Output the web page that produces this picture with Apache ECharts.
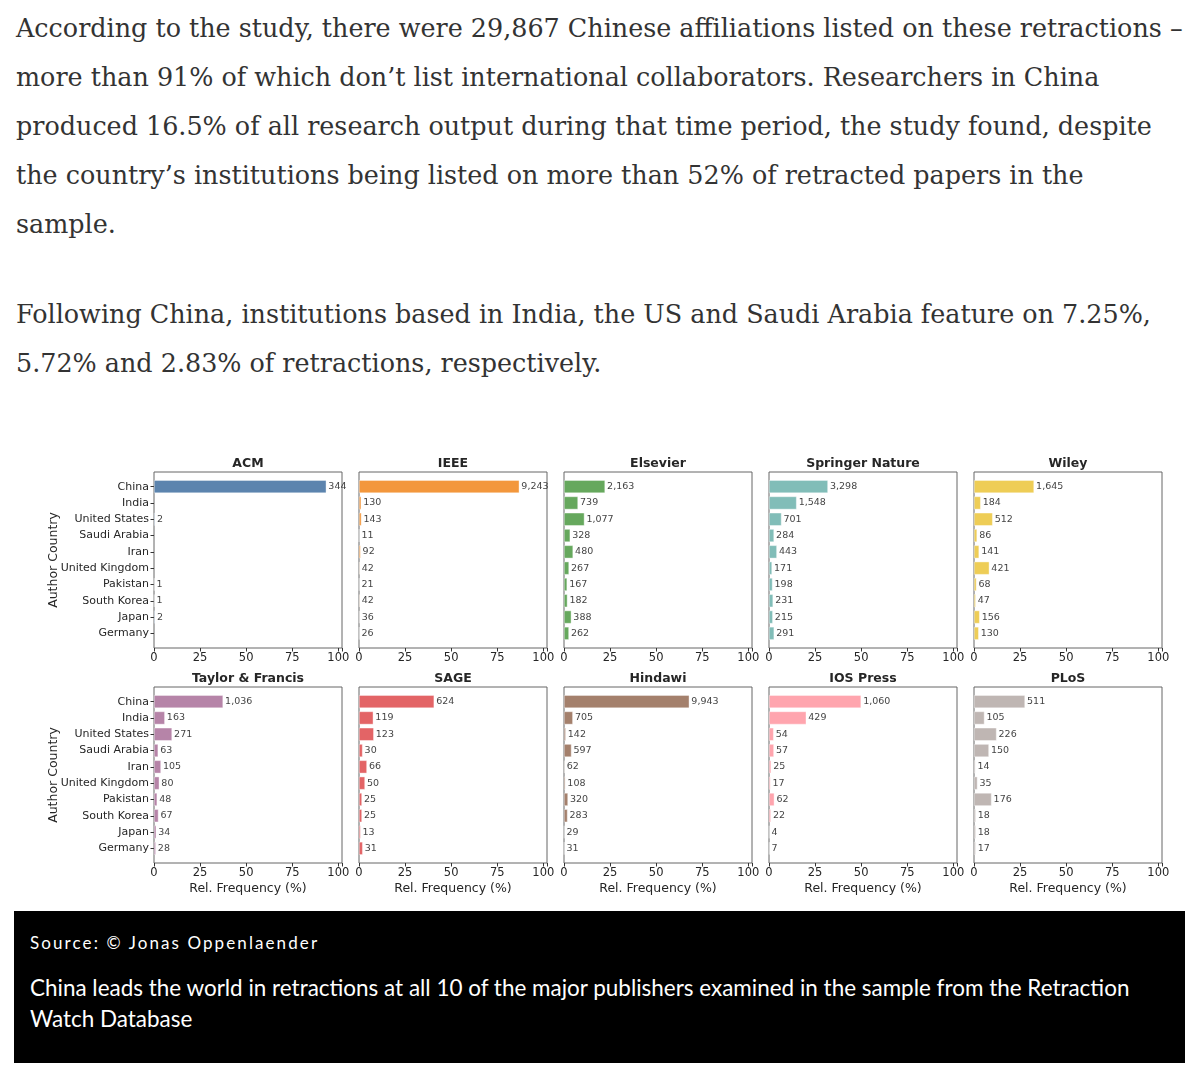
<!DOCTYPE html>
<html>
<head>
<meta charset="utf-8">
<script src="https://cdn.jsdelivr.net/npm/echarts@6/dist/echarts.min.js"></script>
<style>
  html, body { margin: 0; padding: 0; background: #fff; }
  body { width: 1200px; height: 1074px; position: relative; overflow: hidden; }
  .para { position: absolute; left: 16px; font-family: "DejaVu Serif", "Liberation Serif", serif;
          font-size: 26px; line-height: 49px; color: #333; white-space: nowrap; }
  .para span { display: inline-block; }
  #chart { position: absolute; left: 0; top: 440px; width: 1200px; height: 470px; }
  .caption { position: absolute; left: 14px; top: 911px; width: 1171px; height: 152px; background: #000;
             color: #fff; font-family: Lato, "Open Sans", sans-serif; }
  .caption .src { position: absolute; left: 16px; top: 21px; font-size: 17px; letter-spacing: 2.1px; white-space: nowrap; }
  .caption .txt { position: absolute; left: 16px; top: 61px; font-size: 20px; line-height: 31px; white-space: nowrap; }
  .caption .txt span { display: inline-block; }
</style>
</head>
<body>
<div class="para" id="p1" style="top:4px"><span id="fit1">According to the study, there were 29,867 Chinese affiliations listed on these retractions –</span><br>
more than 91% of which don’t list international collaborators. Researchers in China<br>
produced 16.5% of all research output during that time period, the study found, despite<br>
the country’s institutions being listed on more than 52% of retracted papers in the<br>
sample.
</div>
<div class="para" id="p2" style="top:290px">Following China, institutions based in India, the US and Saudi Arabia feature on 7.25%,<br>
5.72% and 2.83% of retractions, respectively.
</div>
<div id="chart"></div>
<div class="caption">
  <div class="src">Source: © Jonas Oppenlaender</div>
  <div class="txt" id="cap"><span id="fit2">China leads the world in retractions at all 10 of the major publishers examined in the sample from the Retraction</span><br>Watch Database</div>
</div>
<script>
// categories
const countries = ['China', 'India', 'United States', 'Saudi Arabia', 'Iran',
  'United Kingdom', 'Pakistan', 'South Korea', 'Japan', 'Germany'];
const xTicks = [0, 25, 50, 75, 100];

// retraction counts (bar labels) and relative frequency in % (bar lengths)
const acmCounts = [344, null, 2, null, null, null, 1, 1, 2, null];
const acmPct = [93.5, null, 0.54, null, null, null, 0.27, 0.27, 0.54, null];
const ieeeCounts = [9243, 130, 143, 11, 92, 42, 21, 42, 36, 26];
const ieeePct = [87.0, 1.22, 1.35, 0.10, 0.87, 0.40, 0.20, 0.40, 0.34, 0.24];
const elsevierCounts = [2163, 739, 1077, 328, 480, 267, 167, 182, 388, 262];
const elsevierPct = [22.3, 7.62, 11.1, 3.38, 4.95, 2.75, 1.72, 1.88, 4.0, 2.7];
const springerCounts = [3298, 1548, 701, 284, 443, 171, 198, 231, 215, 291];
const springerPct = [32.0, 15.0, 6.8, 2.76, 4.3, 1.66, 1.92, 2.24, 2.09, 2.82];
const wileyCounts = [1645, 184, 512, 86, 141, 421, 68, 47, 156, 130];
const wileyPct = [32.6, 3.65, 10.15, 1.7, 2.79, 8.34, 1.35, 0.93, 3.09, 2.58];
const tfCounts = [1036, 163, 271, 63, 105, 80, 48, 67, 34, 28];
const tfPct = [37.5, 5.9, 9.81, 2.28, 3.8, 2.9, 1.74, 2.43, 1.23, 1.01];
const sageCounts = [624, 119, 123, 30, 66, 50, 25, 25, 13, 31];
const sagePct = [40.8, 7.78, 8.04, 1.96, 4.32, 3.27, 1.63, 1.63, 0.85, 2.03];
const hindawiCounts = [9943, 705, 142, 597, 62, 108, 320, 283, 29, 31];
const hindawiPct = [68.0, 4.82, 0.97, 4.08, 0.42, 0.74, 2.19, 1.94, 0.2, 0.21];
const iosCounts = [1060, 429, 54, 57, 25, 17, 62, 22, 4, 7];
const iosPct = [50.0, 20.24, 2.55, 2.69, 1.18, 0.8, 2.92, 1.04, 0.19, 0.33];
const plosCounts = [511, 105, 226, 150, 14, 35, 176, 18, 18, 17];
const plosPct = [27.7, 5.69, 12.25, 8.13, 0.76, 1.9, 9.54, 0.98, 0.98, 0.92];

const publishers = ['ACM', 'IEEE', 'Elsevier', 'Springer Nature', 'Wiley',
  'Taylor & Francis', 'SAGE', 'Hindawi', 'IOS Press', 'PLoS'];
const colors = ['#4e79a7', '#f28e2b', '#59a14f', '#76b7b2', '#edc948',
  '#b07aa1', '#e15759', '#9c755f', '#ff9da7', '#bab0ac'];
const allCounts = [acmCounts, ieeeCounts, elsevierCounts, springerCounts, wileyCounts,
  tfCounts, sageCounts, hindawiCounts, iosCounts, plosCounts];
const allPct = [acmPct, ieeePct, elsevierPct, springerPct, wileyPct,
  tfPct, sagePct, hindawiPct, iosPct, plosPct];

// size the article text so the first line spans the same width as in the screenshot
function fitFont(box, span, target) {
  const fs = parseFloat(getComputedStyle(box).fontSize);
  const w = span.getBoundingClientRect().width;
  if (w > 0) box.style.fontSize = (fs * target / w).toFixed(2) + 'px';
}
const p1 = document.getElementById('p1');
fitFont(p1, document.getElementById('fit1'), 1167);
document.getElementById('p2').style.fontSize = p1.style.fontSize;
fitFont(document.getElementById('cap'), document.getElementById('fit2'), 1100);

const chart = echarts.init(document.getElementById('chart'));

const font = 'DejaVu Sans';
const textCol = '#262626';
const lefts = [154, 359, 564, 769, 974];
const tops = [32, 247];
const W = 188, H = 176, PAD = 6.5;
const XMAX = 102;

let grid = [], xAxis = [], yAxis = [], series = [];

for (let i = 0; i < publishers.length; i++) {
  const col = i % 5, row = Math.floor(i / 5);
  const left = lefts[col], top = tops[row];
  const counts = allCounts[i];

  // outer frame
  grid.push({ left: left, top: top, width: W, height: H, show: true,
    borderColor: '#666', borderWidth: 1, backgroundColor: '#fff' });
  // inner bar area (matplotlib-like y margins)
  grid.push({ left: left, top: top + PAD, width: W, height: H - 2 * PAD });

  const fg = 2 * i, ig = 2 * i + 1;

  xAxis.push({
    type: 'value', gridIndex: fg, position: 'bottom', min: 0, max: XMAX, interval: 25,
    axisLine: { show: false }, splitLine: { show: false },
    axisTick: { show: true, length: 3.5, lineStyle: { color: '#333' } },
    axisLabel: { margin: 4, fontSize: 11.5, fontFamily: font, color: textCol,
      formatter: v => (xTicks.indexOf(v) >= 0 ? String(v) : '') },
    name: row === 1 ? 'Rel. Frequency (%)' : '', nameLocation: 'middle', nameGap: 19,
    nameTextStyle: { fontSize: 12.5, fontFamily: font, color: textCol }
  });
  xAxis.push({
    type: 'value', gridIndex: fg, position: 'top', min: 0, max: XMAX,
    axisLine: { show: false }, axisTick: { show: false }, axisLabel: { show: false },
    splitLine: { show: false },
    name: publishers[i], nameLocation: 'middle', nameGap: 2,
    nameTextStyle: { fontSize: 12.5, fontWeight: 'bold', fontFamily: font, color: textCol }
  });
  xAxis.push({
    type: 'value', gridIndex: ig, min: 0, max: XMAX, show: false
  });

  yAxis.push({
    type: 'value', gridIndex: fg, min: 0, max: 1,
    axisLine: { show: false }, axisTick: { show: false }, axisLabel: { show: false },
    splitLine: { show: false },
    name: col === 0 ? 'Author Country' : '', nameLocation: 'middle', nameGap: 94,
    nameTextStyle: { fontSize: 12.5, fontFamily: font, color: textCol }
  });
  yAxis.push({
    type: 'category', gridIndex: ig, data: countries, inverse: true,
    axisLine: { show: false }, splitLine: { show: false },
    axisTick: { show: col === 0, alignWithLabel: true, length: 3.5, lineStyle: { color: '#333' } },
    axisLabel: { show: col === 0, margin: 5, fontSize: 11, fontFamily: font, color: textCol }
  });

  series.push({
    type: 'bar', xAxisIndex: 3 * i + 2, yAxisIndex: ig,
    data: allPct[i], barCategoryGap: '20%',
    itemStyle: { color: colors[i], opacity: 0.92, borderColor: 'rgba(255,255,255,0.7)', borderWidth: 0.6 },
    label: {
      show: true, position: 'right', distance: 2, fontSize: 9.5, fontFamily: font, color: '#333',
      formatter: p => (counts[p.dataIndex] == null ? '' : counts[p.dataIndex].toLocaleString('en-US'))
    },
    animation: false
  });
}

chart.setOption({
  animation: false,
  grid: grid,
  xAxis: xAxis,
  yAxis: yAxis,
  series: series
});
</script>
</body>
</html>
